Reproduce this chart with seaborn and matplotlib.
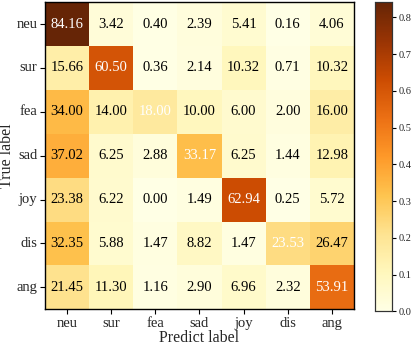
import numpy as np
import pandas as pd
import matplotlib
matplotlib.use("Agg")
import matplotlib.pyplot as plt
import seaborn as sns

sns.set_theme(style="white")
plt.rcParams['font.family'] = ['Liberation Serif', 'DejaVu Serif']

labels = ["neu", "sur", "fea", "sad", "joy", "dis", "ang"]

# row-normalised confusion matrix in percent
neu = [84.16, 3.42, 0.40, 2.39, 5.41, 0.16, 4.06]
sur = [15.66, 60.50, 0.36, 2.14, 10.32, 0.71, 10.32]
fea = [34.00, 14.00, 18.00, 10.00, 6.00, 2.00, 16.00]
sad = [37.02, 6.25, 2.88, 33.17, 6.25, 1.44, 12.98]
joy = [23.38, 6.22, 0.00, 1.49, 62.94, 0.25, 5.72]
dis = [32.35, 5.88, 1.47, 8.82, 1.47, 23.53, 26.47]
ang = [21.45, 11.30, 1.16, 2.90, 6.96, 2.32, 53.91]

cm = pd.DataFrame([neu, sur, fea, sad, joy, dis, ang], index=labels, columns=labels)

fig = plt.figure(figsize=(4.13, 3.46), dpi=100)
ax = fig.add_axes([0.109, 0.106, 0.748, 0.888])
cax = fig.add_axes([0.908, 0.100, 0.041, 0.894])

sns.heatmap(cm / 100, cmap="YlOrBr", vmin=0, vmax=cm.values.max() / 100,
            annot=cm.values, fmt=".2f", annot_kws={"size": 10.5},
            ax=ax, cbar_ax=cax, square=False)

# diagonal numbers white, the rest black
n = len(labels)
for k, t in enumerate(ax.texts):
    i, j = divmod(k, n)
    t.set_color("white" if i == j else "black")

for s in ax.spines.values():
    s.set_visible(True)
    s.set_color("black")
    s.set_linewidth(1.0)
ax.tick_params(axis="both", length=3.5, width=0.8, color="black", labelsize=10.5,
               pad=2, bottom=True, left=True)
ax.set_yticklabels(labels, rotation=0)
ax.set_xticklabels(labels, rotation=0)
ax.set_xlabel("Predict label", fontsize=11.5, labelpad=0)
ax.set_ylabel("True label", fontsize=11.5, labelpad=1)

cax.tick_params(labelsize=7.5, length=3, width=0.8, color="black", pad=2, right=True)
cax.set_yticks([0.0, 0.1, 0.2, 0.3, 0.4, 0.5, 0.6, 0.7, 0.8])
for s in cax.spines.values():
    s.set_visible(True)
    s.set_color("#333333")
    s.set_linewidth(0.8)

fig.savefig("out.png", dpi=100)
